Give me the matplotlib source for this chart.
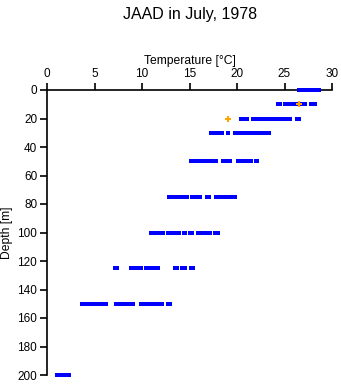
import matplotlib
matplotlib.use("Agg")
import matplotlib.pyplot as plt

plt.rcParams['font.family'] = ['Liberation Sans', 'DejaVu Sans']

depths = [0, 10, 20, 30, 50, 75, 100, 125, 150, 200]
t_0 = [26.5, 26.6, 26.8, 27.1, 27.2, 27.35, 27.5, 27.6, 27.75, 27.9, 28.0, 28.15, 28.3, 28.45, 28.6]
t_10 = [24.3, 24.5, 25.05, 25.2, 25.45, 25.6, 25.75, 25.9, 26.05, 26.4, 26.6, 26.9, 27.05, 27.2,
        27.75, 27.9, 28.15, 28.25]
t_20 = [20.4, 20.55, 20.7, 20.85, 21.1, 21.7, 21.85, 22.0, 22.15, 22.3, 22.45, 22.6, 22.75, 22.9,
        23.05, 23.2, 23.35, 23.5, 23.65, 23.8, 23.95, 24.1, 24.25, 24.4, 24.55, 24.95, 25.05,
        25.5, 25.6, 26.3, 26.5]
t_30 = [17.25, 17.4, 17.55, 17.7, 17.85, 18.0, 18.15, 18.3, 18.45, 19.05, 19.8, 19.95, 20.1,
        20.25, 20.4, 20.7, 21.2, 21.35, 21.5, 21.75, 21.9, 22.05, 22.2, 22.35, 22.5, 22.65, 22.8,
        22.95, 23.1, 23.25, 23.4]
t_50 = [15.15, 15.3, 15.45, 15.6, 15.75, 15.9, 16.05, 16.2, 16.35, 16.5, 16.9, 17.05, 17.2,
        17.35, 17.5, 17.65, 17.8, 18.5, 18.65, 18.8, 18.95, 19.1, 19.3, 20.1, 20.25, 20.4, 20.6,
        21.0, 21.15, 21.3, 21.5, 22.0, 22.1]
t_75 = [12.85, 13.0, 13.15, 13.35, 13.75, 13.95, 14.4, 14.55, 14.75, 15.3, 15.45, 15.6, 15.75,
        15.9, 16.1, 16.8, 17.0, 17.1, 17.8, 18.0, 18.1, 18.5, 18.7, 18.9, 19.3, 19.45, 19.6, 19.8]
t_100 = [10.95, 11.1, 11.25, 11.4, 11.5, 11.8, 11.95, 12.1, 12.2, 12.7, 12.9, 13.3, 13.45, 13.6,
         13.75, 13.9, 14.4, 14.5, 15.1, 15.3, 15.85, 16.0, 16.45, 16.6, 17.0, 17.2, 17.7, 17.85, 18.0]
t_125 = [7.15, 7.4, 8.8, 8.95, 9.1, 9.25, 9.4, 9.55, 9.7, 9.9, 10.4, 10.55, 10.75, 11.1, 11.25,
         11.4, 11.55, 11.7, 13.5, 13.7, 14.2, 14.5, 15.2, 15.4]
t_150 = [3.65, 3.85, 4.3, 4.5, 4.8, 5.15, 5.3, 5.5, 5.65, 5.8, 6.0, 6.2, 7.3, 7.5, 7.8, 8.1, 8.3,
         8.5, 8.7, 8.9, 9.1, 9.9, 10.1, 10.4, 10.8, 11.0, 11.2, 11.5, 11.9, 12.1, 12.7, 12.9]
t_200 = [1.05, 1.2, 1.35, 1.5, 1.65, 1.8, 2.0, 2.2, 2.3]
temps = [t_0, t_10, t_20, t_30, t_50, t_75, t_100, t_125, t_150, t_200]

flag_depths = [10, 20]
flag_temps = [26.5, 19.0]

x_ticks = [0, 5, 10, 15, 20, 25, 30]
y_ticks = [0, 20, 40, 60, 80, 100, 120, 140, 160, 180, 200]

fig = plt.figure(figsize=(3.41, 3.84), dpi=100)
ax = fig.add_axes([47/341, 9/384, 285/341, 285/384])

for d, tl in zip(depths, temps):
    ax.plot(tl, [d]*len(tl), linestyle='none', marker='s', markersize=2.3,
            color='#0000ff', markeredgewidth=0, clip_on=False, zorder=3)
ax.plot(flag_temps, flag_depths, linestyle='none', marker='P', markersize=3.8,
        color='#ffa500', markeredgewidth=0, clip_on=False, zorder=4)

ax.set_xlim(0, 30)
ax.set_ylim(200, 0)
ax.set_xticks(x_ticks)
ax.set_yticks(y_ticks)
ax.xaxis.tick_top()
ax.xaxis.set_label_position('top')
for s in ['right', 'bottom']:
    ax.spines[s].set_visible(False)
for s in ['left', 'top']:
    ax.spines[s].set_linewidth(1.2)
ax.tick_params(axis='both', direction='out', length=5, width=1.2, labelsize=8.5, pad=2)
ax.set_xlabel('Temperature [°C]', fontsize=8.7, labelpad=3)
ax.set_ylabel('Depth [m]', fontsize=8.7, labelpad=3)
fig.text(190/341, 1-15/384, 'JAAD in July, 1978', ha='center', va='center', fontsize=11.5)

fig.savefig('out.png', dpi=100)
